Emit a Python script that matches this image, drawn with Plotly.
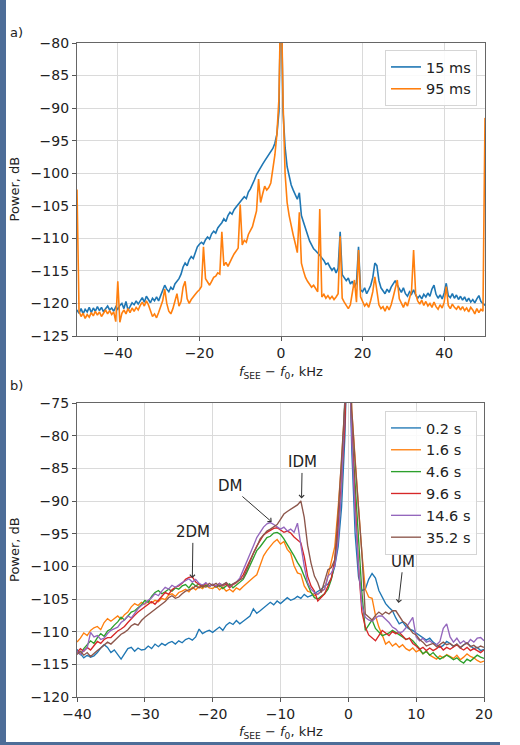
import numpy as np
import plotly.graph_objects as go

# ---------------- Panel a data (kHz grid -50..50 step 0.5) ----------------
freq_a = np.arange(-50, 50.001, 0.5)
labels_a = ["15 ms", "95 ms"]
power_15ms = [
    -121.0, -121.5, -120.8, -121.6, -120.9, -121.3, -120.6, -121.4, -120.7, -121.2,
    -120.5, -121.1, -120.6, -121.3, -120.8, -120.4, -121.0, -120.7, -121.2, -120.5,
    -120.9, -120.3, -120.0, -120.8, -119.7, -121.0, -120.5, -119.9, -120.2, -119.6,
    -120.1, -119.5, -119.1, -119.8, -118.9, -119.4, -119.9, -119.2, -119.6, -119.0,
    -119.6, -118.8, -118.0, -117.2, -117.8, -118.2, -117.5, -117.9, -117.0, -116.6,
    -116.2, -115.5, -114.4, -113.8, -114.2, -113.3, -112.8, -113.1, -112.0, -111.3,
    -110.9, -110.6, -110.9, -110.2, -109.8, -110.1, -109.3, -108.9, -109.2, -108.4,
    -108.0, -107.6, -107.0, -107.4, -106.5, -106.0, -106.3, -105.6, -105.2, -104.8,
    -104.5, -104.0, -103.6, -103.9, -102.9, -102.4, -101.8, -101.0, -100.2, -99.6,
    -99.2, -98.6, -98.1, -97.6, -97.0, -96.7, -96.2, -95.4, -94.0, -90.5,
    -70.0, -90.5, -96.0, -99.0, -100.6, -101.8, -102.6, -103.3, -104.0, -103.0,
    -106.5, -107.5, -108.4, -109.6, -110.4, -111.0, -111.6, -111.9, -112.2, -112.6,
    -113.0, -113.4, -114.0, -113.8, -114.4, -114.9, -114.5, -115.3, -114.6, -109.0,
    -115.6, -116.0, -116.5, -116.1, -117.0, -116.6, -117.5, -116.8, -111.3, -117.9,
    -118.2, -117.6, -118.5, -117.9, -117.2, -116.0, -113.8, -114.2, -116.5, -117.6,
    -118.0, -118.5, -117.8, -118.3, -117.5, -117.0, -116.5, -117.2, -117.8, -118.3,
    -117.6, -118.5, -118.9, -118.2, -118.6, -117.9, -118.7, -119.2, -118.8, -119.3,
    -118.6, -119.0, -118.4, -118.9, -117.8, -117.2, -118.6, -119.2, -118.7, -119.3,
    -118.4, -116.9, -118.8, -119.1, -118.5, -119.2, -118.7, -119.4, -118.9, -119.5,
    -119.0, -119.7, -119.2, -119.8, -119.4, -119.9, -119.3, -118.8, -119.7, -120.0,
    -120.3,
]
power_95ms = [
    -102.5, -121.2, -122.0, -121.5, -122.3, -121.7, -122.1, -121.4, -121.9, -121.2,
    -121.8, -121.3, -122.0, -121.5, -121.0, -121.6, -121.1, -121.7, -121.3, -122.8,
    -116.6, -122.9, -121.5, -121.0, -121.6, -120.8, -121.4, -120.7, -121.2, -120.6,
    -121.0, -120.3, -119.8, -120.4, -119.6, -120.2, -121.3, -122.0, -121.6, -122.2,
    -121.4, -120.5, -119.6, -117.8, -120.0, -121.2, -121.6, -120.8, -119.8, -118.5,
    -120.4, -119.7, -117.5, -116.6, -119.3, -120.0, -119.4, -118.9, -118.6, -118.2,
    -117.9, -117.4, -111.3, -116.2, -116.8, -117.2, -116.6, -116.0, -115.8, -115.3,
    -115.5, -109.0, -114.2, -113.7, -114.3, -113.5, -113.0, -112.4, -112.0, -111.5,
    -104.8, -111.0, -110.3, -110.6, -109.4, -108.8, -108.2, -107.0, -105.8, -100.9,
    -104.5, -103.2, -102.0, -102.6, -102.2, -101.5, -99.5, -97.2, -94.0, -88.5,
    -70.0, -89.0, -100.0, -104.5, -106.5, -108.2, -109.5, -110.8, -112.2, -106.0,
    -113.8, -115.0, -116.0, -116.6, -117.0, -117.5, -117.2, -117.8, -118.2, -105.5,
    -119.0, -118.6, -119.2, -118.8, -119.3, -118.9, -119.4, -119.0, -118.5, -109.7,
    -119.2, -119.8, -120.3, -120.8, -120.2, -118.5, -116.4, -119.8, -111.8, -119.0,
    -119.6, -120.4, -120.0, -120.6, -119.5, -118.2, -115.9, -118.5, -120.2, -120.8,
    -120.5, -121.2, -120.4, -121.0, -120.2, -119.0, -117.8, -116.4, -119.3, -120.1,
    -120.6, -119.8, -120.4, -119.2, -118.0, -111.8, -118.5, -119.6, -120.1, -119.5,
    -120.3, -119.7, -120.4, -120.0, -120.6, -119.8, -120.5, -120.9, -120.2, -120.7,
    -119.8, -117.4, -120.3, -120.8, -120.1, -120.6, -120.9, -120.4, -121.0, -120.5,
    -121.1, -120.7, -121.3, -120.6, -121.0, -121.6, -120.8, -121.4, -120.9, -121.2,
    -91.5,
]

# ---------------- Panel b data (kHz grid -40..20 step 0.5) ----------------
freq_b = np.arange(-40, 20.001, 0.5)
labels_b = ["0.2 s", "1.6 s", "4.6 s", "9.6 s", "14.6 s", "35.2 s"]
p_02s = [
    -112.7, -113.4, -114.0, -113.6, -113.9, -113.7, -113.2, -112.5, -112.0, -112.4,
    -113.2, -112.8, -113.5, -114.2, -113.4, -112.6, -112.4, -113.0, -112.5, -112.8,
    -112.7, -112.2, -112.6, -111.9, -112.3, -111.8, -112.1, -111.7, -111.5, -111.9,
    -111.4, -111.7, -111.2, -111.0, -111.3, -110.8, -109.6, -110.3, -110.0, -109.8,
    -110.1, -109.7, -109.3, -109.8, -109.0, -108.6, -108.9, -108.3, -108.8, -108.4,
    -108.0, -107.6, -106.5, -107.2, -106.8, -106.4, -106.0, -105.5, -105.9, -105.3,
    -105.7, -105.3, -104.8, -105.2, -105.0, -104.6, -104.9, -104.3, -104.7, -104.5,
    -104.2, -103.9, -103.5, -103.0, -102.7, -101.8, -100.0, -97.0, -91.0, -80.0,
    -60.0, -82.0, -95.0, -101.6, -103.7, -103.5, -102.0, -101.1, -101.8, -103.7,
    -104.8, -105.7, -106.3, -106.8, -107.9, -108.8, -108.5, -109.2, -109.6, -109.8,
    -110.2, -110.6, -110.9, -111.3, -111.0, -111.6, -112.0, -112.4, -112.1, -111.5,
    -111.8, -112.3, -111.9, -112.5, -112.0, -111.7, -112.2, -112.6, -112.4, -112.9,
    -112.7,
]
p_16s = [
    -111.6, -111.0, -110.2, -110.6, -109.8, -109.4, -109.2, -109.7, -108.6, -108.0,
    -108.4, -108.0, -107.6, -108.1, -107.4, -107.0, -106.2, -105.7, -106.0, -105.5,
    -105.8, -105.3, -105.6, -105.2, -105.4, -104.9, -105.1, -104.4, -104.2, -104.6,
    -104.0, -103.8, -103.5, -103.9, -103.2, -103.6, -103.1, -103.4, -102.9, -103.3,
    -103.4, -103.0, -103.6, -103.2, -103.8, -103.5, -103.9, -103.3, -103.6, -103.1,
    -102.6, -102.2, -101.7, -101.3, -99.8, -98.4, -97.6, -96.9, -96.3, -95.9,
    -96.6, -96.2, -97.4, -98.0, -99.9, -101.0, -101.2, -103.0, -103.8, -104.0,
    -104.5, -104.2, -103.8, -103.5, -101.5, -99.0, -97.0, -91.0, -84.0, -75.0,
    -60.0, -76.0, -84.0, -91.0, -98.0, -103.5, -104.7, -104.9, -107.5, -109.3,
    -110.5, -111.9, -111.5, -112.2, -111.8, -112.4, -112.0, -112.6, -112.9, -112.5,
    -113.1, -112.8, -113.4, -113.0, -113.6, -113.9, -114.2, -113.7, -114.0, -113.5,
    -113.8, -114.1, -113.6, -114.3, -113.9, -113.4, -113.8, -114.0, -114.4, -114.7,
    -114.5,
]
p_46s = [
    -113.0, -113.5, -112.6, -112.0, -111.4, -111.8, -110.9, -110.3, -110.7, -109.9,
    -109.6, -109.0, -108.5, -107.8, -108.2, -107.6, -107.0, -106.8, -106.3, -105.9,
    -105.2, -105.5, -104.6, -104.0, -103.7, -104.2, -103.9, -103.5, -103.8, -103.3,
    -103.5, -103.0, -102.8, -103.3, -102.6, -103.0, -102.7, -103.2, -102.9, -103.1,
    -102.8, -103.2, -102.9, -103.4, -103.0, -102.7, -103.3, -102.9, -102.4, -102.0,
    -101.0, -99.8, -98.8, -97.6, -97.0, -96.2, -95.6, -95.4, -94.9, -94.8,
    -95.1, -95.8, -96.6, -97.4, -98.4, -99.4, -100.2, -101.5, -102.8, -104.0,
    -104.8, -105.0, -104.6, -104.2, -103.5, -102.0, -99.5, -95.0, -88.0, -78.0,
    -60.0, -79.0, -88.0, -96.0, -104.0, -109.8, -109.0, -108.2, -109.5, -110.0,
    -110.6, -110.4, -110.2, -109.8, -110.1, -110.5, -110.8, -111.2, -111.0, -111.4,
    -112.0, -112.6, -113.4, -113.0, -113.6, -113.2, -113.8, -114.2, -113.9, -113.6,
    -113.9, -114.3, -114.0, -114.5, -114.8, -114.2, -114.5, -114.0, -113.6, -113.9,
    -114.1,
]
p_96s = [
    -113.2, -112.6, -113.0, -112.4, -112.8, -112.1, -111.5, -111.8, -111.2, -110.9,
    -110.9, -110.4, -109.9, -109.6, -109.2, -108.6, -108.0, -107.5, -107.0, -106.6,
    -106.3, -105.9, -105.4, -105.8, -105.2, -104.6, -104.0, -104.3, -103.6, -103.2,
    -103.0, -102.6, -102.0, -101.7, -101.6, -102.4, -102.7, -103.1, -102.6, -103.0,
    -102.8, -103.1, -102.6, -103.0, -102.7, -103.3, -102.8, -102.5, -102.0, -101.3,
    -100.2, -99.0, -98.0, -96.9, -96.0, -95.2, -94.8, -94.5, -94.2, -94.1,
    -94.4, -94.8, -94.6, -94.9, -95.5, -95.9, -96.4, -98.5, -101.5, -103.0,
    -103.8, -105.3, -104.8, -104.2, -103.0, -101.8, -99.0, -94.0, -87.0, -78.0,
    -60.0, -79.0, -90.0, -100.0, -107.0, -109.3, -110.5, -110.9, -111.4, -110.6,
    -109.8, -110.2, -110.6, -110.0, -110.3, -110.1, -110.6, -111.2, -111.0, -111.8,
    -112.2, -112.7, -112.4, -112.9, -112.5, -112.9, -112.6, -112.2, -112.8, -112.4,
    -112.7, -112.3, -112.0, -112.5, -112.8, -112.4, -112.9, -112.6, -112.9, -113.2,
    -112.8,
]
p_146s = [
    -113.0, -113.5, -112.9, -112.5, -110.1, -110.8, -110.6, -111.2, -111.0, -110.3,
    -109.8, -109.5, -109.3, -108.6, -108.2, -107.6, -107.9, -107.2, -106.5, -106.0,
    -105.7, -105.2, -104.8, -104.2, -104.5, -103.8, -103.2, -103.5, -102.9, -103.2,
    -102.8, -102.5, -102.2, -101.9, -102.4, -102.0, -102.6, -102.9, -102.5, -103.1,
    -102.7, -103.0, -102.6, -102.9, -102.5, -103.1, -102.7, -102.4, -101.8, -100.6,
    -99.5, -98.2, -96.9, -95.6, -94.8, -94.0, -93.5, -93.3, -93.6, -93.9,
    -94.3, -94.0, -94.6, -94.3, -94.8, -93.4, -96.9, -100.0, -102.5, -103.5,
    -104.0, -104.3, -103.8, -103.5, -101.5, -101.0, -100.0, -96.0, -88.0, -78.0,
    -60.0, -80.0, -92.0, -100.0, -106.0, -107.8, -108.2, -108.4, -107.9, -107.6,
    -107.6, -108.1, -108.6, -109.3, -109.6, -110.2, -110.0, -109.4, -108.6, -107.8,
    -110.8, -111.4, -111.0, -111.6, -111.4, -111.8, -112.0, -111.5, -109.5, -108.8,
    -110.8, -111.6, -111.0, -111.8, -111.4, -111.9, -111.2, -111.6, -111.0, -110.9,
    -111.4,
]
p_352s = [
    -113.5, -113.0, -113.6, -113.2, -113.8, -113.3, -112.9, -112.5, -112.0, -111.6,
    -111.9, -111.4, -110.8, -110.4, -110.1, -109.7, -109.1, -108.8, -109.0, -108.3,
    -107.8, -107.4, -107.0, -106.6, -106.3, -105.9, -105.4, -104.8, -104.5, -104.9,
    -104.7, -104.2, -103.8, -103.6, -103.4, -103.0, -103.3, -102.9, -103.2, -102.6,
    -102.9, -102.6, -103.1, -102.8, -102.5, -103.0, -102.7, -102.4, -102.2, -101.8,
    -100.6, -99.2, -98.0, -97.0, -95.8, -95.2, -94.6, -94.3, -94.0, -93.6,
    -92.8, -92.0, -91.6, -91.3, -91.0, -90.6, -90.0, -92.5, -96.8, -99.5,
    -101.5, -102.5, -104.0, -102.2, -100.5, -100.2, -99.0, -92.0, -84.0, -75.0,
    -60.0, -76.0, -84.0, -91.0, -98.0, -107.3, -107.8, -108.2, -107.5, -107.0,
    -107.4, -107.0, -107.3, -106.8, -106.8, -107.6, -108.4, -108.8, -109.6, -110.2,
    -110.5, -111.2, -111.6, -112.2, -112.0, -111.8, -112.3, -112.0, -111.6, -112.0,
    -111.8, -112.2, -111.9, -112.4, -112.0, -111.7, -112.3, -112.1, -112.5, -112.2,
    -112.4,
]
series_b = [p_02s, p_16s, p_46s, p_96s, p_146s, p_352s]

# ticks
xticks_a = [-40, -20, 0, 20, 40]
yticks_a = [-80, -85, -90, -95, -100, -105, -110, -115, -120, -125]
xticks_b = [-40, -30, -20, -10, 0, 10, 20]
yticks_b = [-75, -80, -85, -90, -95, -100, -105, -110, -115, -120]

# annotations in panel b: (text, text x, text y, arrow-head x, arrow-head y)
mode_labels = ["2DM", "DM", "IDM", "UM"]
mode_text_x = [-22.9, -17.4, -6.8, 8.1]
mode_text_y = [-94.8, -87.7, -84.1, -99.3]
mode_head_x = [-23.0, -11.3, -6.9, 7.4]
mode_head_y = [-101.8, -93.2, -89.6, -105.6]

colors = ["#1f77b4", "#ff7f0e", "#2ca02c", "#d62728", "#9467bd", "#8c564b"]

for s in [power_15ms, power_95ms]:
    assert len(s) == len(freq_a), len(s)
for s in series_b:
    assert len(s) == len(freq_b), len(s)

W, H = 520, 745
FONT = "DejaVu Sans"
TXT = "#222222"

fig = go.Figure()
for i, (lab, s) in enumerate(zip(labels_a, [power_15ms, power_95ms])):
    fig.add_trace(go.Scatter(x=freq_a, y=s, mode="lines", name=lab,
                             line=dict(color=colors[i], width=1.6),
                             xaxis="x", yaxis="y", legend="legend"))
for i, (lab, s) in enumerate(zip(labels_b, series_b)):
    fig.add_trace(go.Scatter(x=freq_b, y=s, mode="lines", name=lab,
                             line=dict(color=colors[i], width=1.35),
                             xaxis="x2", yaxis="y2", legend="legend2"))


def minus(v):
    return str(v).replace("-", "\u2212")


axis_common = dict(showline=True, mirror=True, linecolor="#666666", linewidth=1.3,
                   showgrid=True, gridcolor="#dadada", gridwidth=1, zeroline=False,
                   ticks="outside", ticklen=4, tickcolor="#555555", tickwidth=1,
                   automargin=False,
                   tickfont=dict(family=FONT, size=14, color=TXT))

fig.update_layout(
    width=W, height=H,
    margin=dict(l=0, r=0, t=0, b=0, autoexpand=False),
    paper_bgcolor="white", plot_bgcolor="white",
    font=dict(family=FONT, color=TXT),
    xaxis=dict(domain=[77 / W, 485 / W], range=[-50, 50], anchor="y",
               tickvals=xticks_a, ticktext=[minus(v) for v in xticks_a], **axis_common),
    yaxis=dict(domain=[1 - 336 / H, 1 - 43 / H], range=[-125, -80], anchor="x",
               tickvals=yticks_a, ticktext=[minus(v) for v in yticks_a], **axis_common),
    xaxis2=dict(domain=[77 / W, 484 / W], range=[-40, 20], anchor="y2",
                tickvals=xticks_b, ticktext=[minus(v) for v in xticks_b], **axis_common),
    yaxis2=dict(domain=[1 - 697 / H, 1 - 403 / H], range=[-120, -75], anchor="x2",
                tickvals=yticks_b, ticktext=[minus(v) for v in yticks_b], **axis_common),
    legend=dict(x=477 / W, y=1 - 50 / H, xanchor="right", yanchor="top",
                bgcolor="rgba(255,255,255,0.85)", bordercolor="#d5d5d5", borderwidth=1,
                font=dict(family=FONT, size=14.5, color=TXT)),
    legend2=dict(x=477 / W, y=1 - 411 / H, xanchor="right", yanchor="top",
                 bgcolor="rgba(255,255,255,0.85)", bordercolor="#d5d5d5", borderwidth=1,
                 font=dict(family=FONT, size=14.5, color=TXT)),
    showlegend=True,
)

xtitle = "<i>f</i><sub>SEE</sub> \u2212 <i>f</i><sub>0</sub>, kHz"
lab_font = dict(family=FONT, size=13, color=TXT)
ann = [
    dict(text="a)", x=8 / W, y=1 - 32 / H, xref="paper", yref="paper", xanchor="left",
         yanchor="middle", showarrow=False, font=lab_font),
    dict(text="b)", x=8 / W, y=1 - 385 / H, xref="paper", yref="paper", xanchor="left",
         yanchor="middle", showarrow=False, font=lab_font),
    dict(text="Power, dB", x=14 / W, y=1 - 189.5 / H, xref="paper", yref="paper",
         xanchor="center", yanchor="middle",
         textangle=-90, showarrow=False, font=lab_font),
    dict(text="Power, dB", x=14 / W, y=1 - 550 / H, xref="paper", yref="paper",
         xanchor="center", yanchor="middle",
         textangle=-90, showarrow=False, font=lab_font),
    dict(text=xtitle, x=281 / W, y=1 - 372 / H, xref="paper", yref="paper",
         xanchor="center", yanchor="middle", showarrow=False, font=lab_font),
    dict(text=xtitle, x=281 / W, y=1 - 732 / H, xref="paper", yref="paper",
         xanchor="center", yanchor="middle", showarrow=False, font=lab_font),
]
for t, tx, ty, hx, hy in zip(mode_labels, mode_text_x, mode_text_y, mode_head_x, mode_head_y):
    ann.append(dict(text=t, x=hx, y=hy, xref="x2", yref="y2", ax=tx, ay=ty,
                    axref="x2", ayref="y2", showarrow=True, arrowhead=4, arrowsize=1,
                    arrowwidth=1, arrowcolor="#333333", standoff=0,
                    font=dict(family=FONT, size=15, color=TXT)))
fig.update_layout(annotations=ann)

# page border strips visible in the reference
fig.update_layout(shapes=[
    dict(type="rect", xref="paper", yref="paper", x0=0, x1=6 / W, y0=0, y1=1,
         fillcolor="#4d6d98", line=dict(width=0), layer="below"),
    dict(type="rect", xref="paper", yref="paper", x0=0, x1=500 / W, y0=0, y1=3 / H,
         fillcolor="#4d6d98", line=dict(width=0), layer="below"),
])

fig.write_html("out.html")
